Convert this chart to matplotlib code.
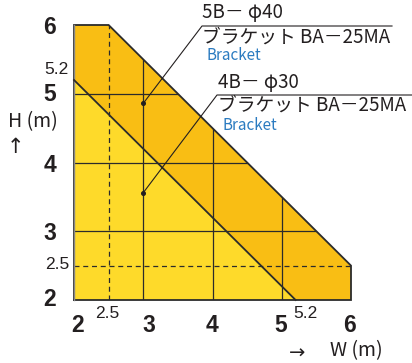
import matplotlib
matplotlib.use("Agg")
import matplotlib.pyplot as plt
from matplotlib.patches import Polygon
import matplotlib.transforms as mtrans

# ---- data ----
outer_w = [2, 2, 2.5, 6, 6]          # 5B-φ40 range (W)
outer_h = [2, 6, 6, 2.5, 2]          # 5B-φ40 range (H)
inner_w = [2, 2, 5.2]                # 4B-φ30 range (W)
inner_h = [2, 5.2, 2]                # 4B-φ30 range (H)
grid_solid = [3, 4, 5]
grid_dashed = [2.5]
major_ticks = [2, 3, 4, 5, 6]
x_minor_labels = [2.5, 5.2]
y_minor_labels = [5.2, 2.5]
dot_outer = (3.0, 4.86)
dot_inner = (3.0, 3.56)
label_outer = ["5B－ φ40", "ブラケット BA－25MA", "Bracket"]
label_inner = ["4B－ φ30", "ブラケット BA－25MA", "Bracket"]

W, H = 412, 363
fig = plt.figure(figsize=(W / 100, H / 100), dpi=100)
fig.patch.set_facecolor("white")
L, R, T, B = 74, 351, 25, 300
ax = fig.add_axes([L / W, 1 - B / H, (R - L) / W, (B - T) / H])
ax.set_xlim(2, 6)
ax.set_ylim(2, 6)
ax.axis("off")

dark = "#F9BE14"
light = "#FEDA2A"
edge = "#2b2b2b"

outer = Polygon(list(zip(outer_w, outer_h)), closed=True, facecolor=dark, edgecolor="none", zorder=1)
ax.add_patch(outer)
inner = Polygon(list(zip(inner_w, inner_h)), closed=True, facecolor=light, edgecolor="none", zorder=2)
ax.add_patch(inner)

# grid lines clipped to the outer polygon
for v in grid_solid:
    for ln in ax.plot([v, v], [2, 6], color=edge, lw=0.9, zorder=3) + ax.plot([2, 6], [v, v], color=edge, lw=0.9, zorder=3):
        ln.set_clip_path(outer)
for v in grid_dashed:
    for ln in ax.plot([v, v], [2, 6], color=edge, lw=0.9, ls=(0, (4, 3)), zorder=3) + ax.plot([2, 6], [v, v], color=edge, lw=0.9, ls=(0, (4, 3)), zorder=3):
        ln.set_clip_path(outer)

# outlines
ax.plot(outer_w + [outer_w[0]], outer_h + [outer_h[0]], color=edge, lw=1.3, zorder=4, clip_on=False, solid_joinstyle="miter")
ax.plot([2, 2], [2, 6], color="#888888", lw=1.0, zorder=4, clip_on=False)
ax.plot(inner_w[1:], inner_h[1:], color=edge, lw=1.3, zorder=4, clip_on=False)

num_font = "Liberation Sans"
jp = ["Noto Sans CJK JP", "DejaVu Sans"]
ink = "#231f20"

# x tick labels
xoff = {2: 3.5, 3: 5.5, 4: 0, 5: -1, 6: -1.5}
for v in major_ticks:
    tr = mtrans.blended_transform_factory(ax.transData, ax.transAxes) + \
        mtrans.ScaledTranslation(xoff[v] / 100, -26 / 100, fig.dpi_scale_trans)
    ax.text(v, 0, str(v), transform=tr, ha="center", va="center", fontsize=16.5,
            fontweight="bold", family=num_font, color=ink, clip_on=False)
xmoff = {2.5: (-1, -13), 5.2: (9.5, -14)}
for v in x_minor_labels:
    dx, dy = xmoff[v]
    tr = mtrans.blended_transform_factory(ax.transData, ax.transAxes) + \
        mtrans.ScaledTranslation(dx / 100, dy / 100, fig.dpi_scale_trans)
    ax.text(v, 0, str(v), transform=tr, ha="center", va="center", fontsize=12.5,
            family=num_font, color=ink, clip_on=False)

# y tick labels
yoff = {2: 0.5, 3: -2.5, 4: -3.5, 5: -1, 6: -3}
for v in major_ticks:
    tr = mtrans.blended_transform_factory(ax.transAxes, ax.transData) + \
        mtrans.ScaledTranslation(-18 / 100, yoff[v] / 100, fig.dpi_scale_trans)
    ax.text(0, v, str(v), transform=tr, ha="right", va="center", fontsize=16.5,
            fontweight="bold", family=num_font, color=ink, clip_on=False)
ymoff = {5.2: 11, 2.5: 1}
for v in y_minor_labels:
    tr = mtrans.blended_transform_factory(ax.transAxes, ax.transData) + \
        mtrans.ScaledTranslation(-5 / 100, ymoff[v] / 100, fig.dpi_scale_trans)
    ax.text(0, v, str(v), transform=tr, ha="right", va="center", fontsize=12.5,
            family=num_font, color=ink, clip_on=False)

# axis titles
def px(x, y):
    return x / W, 1 - y / H

fig.text(*px(33, 122), "H (m)", ha="center", va="center", fontsize=14, family=jp, color=ink)
fig.text(*px(15, 147), "↑", ha="center", va="center", fontsize=15, family=["DejaVu Sans"], color=ink)
fig.text(*px(297, 353), "→", ha="center", va="center", fontsize=14, family=["DejaVu Sans"], color=ink)
fig.text(*px(356, 351), "W (m)", ha="center", va="center", fontsize=14, family=jp, color=ink)

# annotation callouts
def annot(dot, elbow_px, end_px, labels, tx, ty):
    ex = 2 + (elbow_px[0] - L) / ((R - L) / 4)
    ey = 2 + (B - elbow_px[1]) / ((B - T) / 4)
    nx = 2 + (end_px - L) / ((R - L) / 4)
    ax.plot([dot[0], ex, nx], [dot[1], ey, ey], color=ink, lw=0.8, zorder=6, clip_on=False)
    ax.plot([dot[0]], [dot[1]], marker="o", ms=2.6, color=ink, zorder=7, clip_on=False)
    fig.text(*px(tx, ty[0]), labels[0], ha="left", va="center", fontsize=13.5, family=jp, color=ink)
    fig.text(*px(tx, ty[1]), labels[1], ha="left", va="center", fontsize=13.5, family=jp, color=ink)
    fig.text(*px(tx + 5, ty[2]), labels[2], ha="left", va="center", fontsize=11, family=jp,
             color="#2B7BC0")

annot(dot_outer, (202, 26), 392, label_outer, 202, (13, 37, 56))
annot(dot_inner, (217, 95), 412, label_inner, 218, (82, 105, 125))

fig.savefig("out.png", dpi=100, facecolor="white")
